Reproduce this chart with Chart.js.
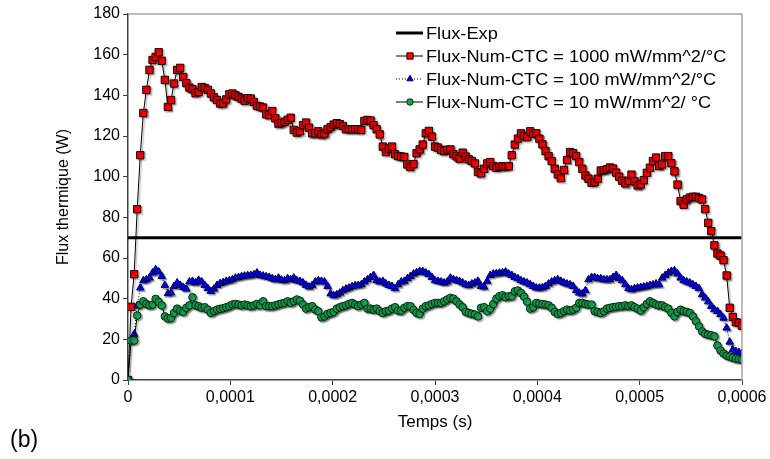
<!DOCTYPE html>
<html>
<head>
<meta charset="utf-8">
<script src="https://cdn.jsdelivr.net/npm/chart.js@4.4.0/dist/chart.umd.min.js"></script>
<style>
  html, body { margin: 0; padding: 0; background: #fff; }
</style>
</head>
<body>
<canvas id="fluxChart" width="770" height="459"></canvas>
<script>
// time step between samples (s), 201 samples from 0 to 0.0006
const timeStep = 3e-6;
const xTickValues = [0, 0.0001, 0.0002, 0.0003, 0.0004, 0.0005, 0.0006];
const yTickValues = [0, 20, 40, 60, 80, 100, 120, 140, 160, 180];

const labelExp = 'Flux-Exp';
const label1000 = 'Flux-Num-CTC = 1000 mW/mm^2/°C';
const label100 = 'Flux-Num-CTC = 100 mW/mm^2/°C';
const label10 = 'Flux-Num-CTC = 10 mW/mm^2/ °C';

const fluxExp = 70;

const flux1000 = [
  0, 36, 52, 84, 110.6, 131.3, 142.7, 152.5, 157.4, 158.9,
  161.2, 157, 147.6, 134.3, 137.7, 145.8, 152.5, 153.5, 149, 146,
  143.8, 143, 141, 141.7, 144.1, 143.6, 142.7, 140.9, 139, 137.7,
  136, 136, 138, 140.5, 140.9, 140, 139.2, 138.4, 137.4, 138.6,
  138.4, 136.7, 134.8, 134.5, 134, 130.7, 130.2, 132.3, 128.7, 126.1,
  126.3, 127, 128, 129, 123, 121.7, 122.3, 125.3, 126.6, 124.1,
  121.3, 121.3, 122.3, 120.8, 121.2, 123.3, 124.3, 125.6, 126.3, 125.8,
  124.9, 123.3, 123.3, 123.3, 123.3, 123.3, 123, 127.4, 127.9, 127.6,
  125.3, 123.3, 120.8, 114.8, 112.1, 113.8, 114.8, 111, 110.1, 109.9,
  109.7, 106, 104.7, 106.2, 111.5, 113.4, 115.8, 121.3, 122.5, 119.7,
  114.8, 114.3, 113.1, 112.5, 113.2, 113.4, 111, 110, 108.9, 111.8,
  109.9, 108.5, 107.7, 106.5, 102.3, 101.6, 103.9, 106.5, 107.2, 105.2,
  104.4, 104.9, 105.1, 104.9, 105.2, 110.5, 115.8, 118.7, 121.3, 120,
  119.4, 122.3, 121, 121.3, 118.7, 115.9, 112.6, 110.1, 107.7, 103.9,
  101.1, 99.2, 103.3, 108.2, 112.1, 111.5, 110.1, 107.2, 103.9, 100.6,
  99, 97, 97.3, 99, 103, 103.2, 103.6, 104.5, 104, 102,
  100, 98, 96.7, 98, 101, 97.7, 95.7, 96.2, 98.3, 101.9,
  104.4, 107.7, 109.4, 105.2, 106, 110.1, 110.1, 106.6, 102.6, 96.1,
  88, 86.2, 88.8, 89.7, 90.1, 90.1, 89.5, 88.8, 84, 77.3,
  73.2, 66.2, 62.2, 61.2, 58.9, 51.4, 35.5, 31, 28.4, 28.1,
  26.7
];

const flux100 = [
  0, 20, 22.5, 36.6, 45.3, 48.9, 49.4, 50.2, 52.7, 54.3,
  53.2, 51, 46.6, 42.5, 42.9, 46.1, 47.8, 46.6, 45.6, 44.8,
  48.3, 48.6, 47.8, 49.1, 48.3, 46.6, 45, 43.6, 44.8, 46.6,
  47.5, 48, 48.6, 48.9, 49.4, 50.2, 50.5, 50.9, 51.2, 51.4,
  51.5, 51.8, 52.7, 51.5, 51.2, 50.9, 50.5, 49.9, 49.4, 50.2,
  49.2, 48.9, 49.9, 49.4, 50.2, 48.9, 48.6, 47.8, 46.6, 45.8,
  46.6, 48.3, 48.9, 48.6, 48.3, 46.1, 42.4, 41.5, 42, 42.8,
  44, 44.8, 45.3, 46, 46.5, 46.6, 46.9, 48.3, 49.4, 50.5,
  51.5, 48.9, 48.3, 48.6, 47.3, 46.6, 46.1, 45, 46.9, 48.3,
  48.6, 49.9, 51, 52.2, 52.9, 53.5, 53.5, 52.7, 51.9, 50.5,
  48.9, 48.6, 48.3, 47.8, 48.3, 50.2, 49.4, 49, 48.6, 47.8,
  46.9, 46.6, 47.3, 47.8, 48.6, 46.1, 45.8, 48.6, 51.5, 52.2,
  52.4, 52.6, 52.8, 53.2, 52.2, 51.5, 50.5, 49.9, 48.9, 48.3,
  47.8, 46.9, 46.1, 45.3, 45.3, 45.5, 46.1, 47.3, 48.3, 48.9,
  49.4, 48.6, 47.8, 47.3, 46.9, 46.1, 44, 42.8, 42.4, 44,
  49.4, 50.5, 50.5, 49.9, 49.9, 49.4, 49.4, 49.4, 50.5, 51.5,
  49.9, 48.9, 46.9, 45, 44.5, 45, 45.3, 45.6, 45.8, 46.1,
  46.6, 46.9, 47.3, 46.9, 50.2, 51.5, 52.7, 53.5, 53.8, 52.2,
  50.2, 48.9, 48.3, 47.8, 46.9, 46.1, 45, 42, 40.4, 38.5,
  36.3, 34.6, 33.8, 32.2, 30.5, 25.6, 18.7, 14.9, 14.1, 13.6,
  13.3
];

const flux10 = [
  0, 19.4, 19.4, 31.7, 37.1, 38.7, 37.4, 36.7, 37.1, 39.9,
  38.4, 36.7, 31.3, 30.2, 30.5, 33, 35.1, 34.1, 33.5, 35.5,
  36.7, 40.7, 36.7, 36.3, 35.5, 35.8, 34.6, 33, 33.8, 34.6,
  35, 35.3, 35.8, 36.3, 37.1, 37.4, 37.1, 36.7, 37.1, 36.7,
  36.3, 36.7, 37.4, 36.7, 38.7, 36.3, 36.3, 36.3, 36.7, 37.2,
  37.6, 37.9, 38.7, 37.9, 38.7, 39.6, 39, 37.1, 35.1, 35.8,
  36.3, 34.6, 33.8, 30.8, 31.3, 32.5, 33, 33.5, 35.1, 35.8,
  36.3, 36.7, 37.4, 37.9, 37.1, 36.3, 37.1, 37.9, 35.1, 35.1,
  34.6, 35.1, 33.8, 33, 33.8, 34.1, 35.1, 35.8, 34.1, 34.1,
  35.5, 36.3, 36.3, 34.5, 33, 32.5, 35.1, 36.3, 36.7, 37.4,
  37.9, 37.9, 37.9, 38.7, 39.6, 40.4, 40, 38.7, 37.1, 35.8,
  33.5, 33, 32.5, 32.2, 31.3, 35.5, 35.8, 33.8, 35.1, 37.4,
  40, 41.2, 41.7, 40.7, 41.2, 41.2, 43.6, 44, 42.8, 41,
  38.5, 35.1, 35.8, 37.9, 37.5, 37.3, 37.1, 36.7, 35.5, 33.5,
  32.5, 33, 33.8, 34.6, 34.1, 34.6, 35.5, 37.9, 37.9, 37.4,
  37.1, 37.1, 33.8, 33.5, 33, 33.8, 35.1, 35.5, 35.8, 36,
  36.3, 36.3, 36.7, 36.3, 36.7, 35.8, 35.1, 34.1, 35.8, 37.4,
  38.7, 37.9, 37.1, 36.7, 36.7, 35.8, 35.1, 33, 31.3, 33.5,
  34.6, 33.8, 33.5, 33, 31.3, 28.9, 26.4, 23.9, 22.7, 22.3,
  22, 21.5, 17, 14.5, 13, 12, 11.5, 11, 10.5, 10.3,
  10
];

const toPoints = values => values.map((v, i) => ({ x: i * timeStep, y: v }));
const fontFamily = '"Liberation Sans", Arial, sans-serif';

// gray frame on top/right, legend box and the "(b)" caption, like the Excel figure
const excelExtras = {
  id: 'excelExtras',
  beforeDatasetDraw(chart, args) {
    if (chart.data.datasets[args.index].markerShadow) {
      const ctx = chart.ctx;
      ctx.save();
      ctx.shadowColor = 'rgba(0,0,0,0.35)';
      ctx.shadowOffsetX = 1.5;
      ctx.shadowOffsetY = 1.5;
      ctx.shadowBlur = 1.5;
    }
  },
  afterDatasetDraw(chart, args) {
    if (chart.data.datasets[args.index].markerShadow) chart.ctx.restore();
  },
  afterDraw(chart) {
    const ctx = chart.ctx;
    const area = chart.chartArea;
    ctx.save();
    ctx.strokeStyle = '#a6a6a6';
    ctx.lineWidth = 1.5;
    ctx.beginPath();
    ctx.moveTo(area.left, area.top);
    ctx.lineTo(area.right, area.top);
    ctx.lineTo(area.right, area.bottom);
    ctx.stroke();

    // legend
    const x0 = 396, x1 = 423, xm = 410, tx = 426;
    const rows = [33, 56, 79, 102];
    const ds = chart.data.datasets;
    ds.forEach((d, i) => {
      const y = rows[i];
      ctx.save();
      ctx.strokeStyle = '#000';
      ctx.lineWidth = i === 0 ? 3 : 1;
      if (d.borderDash) ctx.setLineDash(d.borderDash);
      ctx.beginPath();
      ctx.moveTo(x0, y);
      ctx.lineTo(x1, y);
      ctx.stroke();
      ctx.restore();
      if (d.pointRadius > 0) {
        ctx.fillStyle = d.pointBackgroundColor;
        ctx.strokeStyle = d.pointBorderColor;
        ctx.lineWidth = 1;
        Chart.helpers.drawPoint(ctx, {
          pointStyle: d.pointStyle,
          radius: d.pointRadius * 0.85,
          borderWidth: 1,
          rotation: 0
        }, xm, y);
      }
      // text in the original is a little wider than plain Arial
      ctx.save();
      ctx.translate(tx, y + 1);
      ctx.scale(1.07, 1);
      ctx.font = '17px ' + fontFamily;
      ctx.textBaseline = 'middle';
      ctx.textAlign = 'left';
      ctx.fillStyle = '#000';
      ctx.fillText(d.label, 0, 0);
      ctx.restore();
    });

    ctx.save();
    ctx.translate(10, 441);
    ctx.font = '23px ' + fontFamily;
    ctx.textBaseline = 'middle';
    ctx.fillStyle = '#000';
    ctx.fillText('(b)', 0, 0);
    ctx.restore();
    ctx.restore();
  }
};

new Chart(document.getElementById('fluxChart').getContext('2d'), {
  type: 'line',
  data: {
    datasets: [
      {
        label: labelExp,
        data: [{ x: xTickValues[0], y: fluxExp }, { x: xTickValues[xTickValues.length - 1], y: fluxExp }],
        borderColor: '#000',
        borderWidth: 3,
        pointRadius: 0,
        order: 3
      },
      {
        label: label1000,
        data: toPoints(flux1000),
        borderColor: '#000',
        borderWidth: 1,
        pointStyle: 'rect',
        pointRadius: 5.2,
        pointBackgroundColor: '#ff0000',
        pointBorderColor: '#1a0000',
        pointBorderWidth: 1,
        markerShadow: true,
        order: 2
      },
      {
        label: label100,
        data: toPoints(flux100),
        borderColor: '#000',
        borderWidth: 1,
        borderDash: [1, 2],
        pointStyle: 'triangle',
        pointRadius: 4.3,
        pointBackgroundColor: '#0000ff',
        pointBorderColor: '#000060',
        pointBorderWidth: 1,
        markerShadow: true,
        order: 1
      },
      {
        label: label10,
        data: toPoints(flux10),
        borderColor: '#000',
        borderWidth: 1,
        pointStyle: 'circle',
        pointRadius: 3.8,
        pointBackgroundColor: '#18a552',
        pointBorderColor: '#002a10',
        pointBorderWidth: 1,
        markerShadow: true,
        order: 0
      }
    ]
  },
  options: {
    responsive: false,
    animation: false,
    devicePixelRatio: 1,
    layout: { padding: { left: 54, top: 14, right: 28, bottom: 0 } },
    plugins: {
      legend: { display: false },
      tooltip: { enabled: false }
    },
    scales: {
      x: {
        type: 'linear',
        min: xTickValues[0],
        max: xTickValues[xTickValues.length - 1],
        afterBuildTicks: scale => { scale.ticks = xTickValues.map(v => ({ value: v })); },
        afterFit: scale => { scale.height = 79; },
        grid: { drawOnChartArea: false, drawTicks: true, tickLength: 5, color: '#404040' },
        border: { color: '#404040', width: 1.5 },
        ticks: {
          color: '#000',
          padding: 3,
          maxRotation: 0,
          font: { family: fontFamily, size: 16 },
          callback: v => (v === 0 ? '0' : v.toFixed(4).replace('.', ','))
        },
        title: {
          display: true,
          text: 'Temps (s)',
          color: '#000',
          font: { family: fontFamily, size: 17 },
          padding: { top: 0, bottom: 26 }
        }
      },
      y: {
        min: yTickValues[0],
        max: yTickValues[yTickValues.length - 1],
        afterBuildTicks: scale => { scale.ticks = yTickValues.map(v => ({ value: v })); },
        afterFit: scale => { scale.width = 74; },
        grid: { drawOnChartArea: false, drawTicks: true, tickLength: 5, color: '#404040' },
        border: { color: '#404040', width: 1.5 },
        ticks: {
          color: '#000',
          padding: 3,
          font: { family: fontFamily, size: 16 }
        },
        title: {
          display: true,
          text: 'Flux thermique (W)',
          color: '#000',
          font: { family: fontFamily, size: 16 },
          padding: { top: 0, bottom: 0 }
        }
      }
    }
  },
  plugins: [excelExtras]
});
</script>
</body>
</html>
